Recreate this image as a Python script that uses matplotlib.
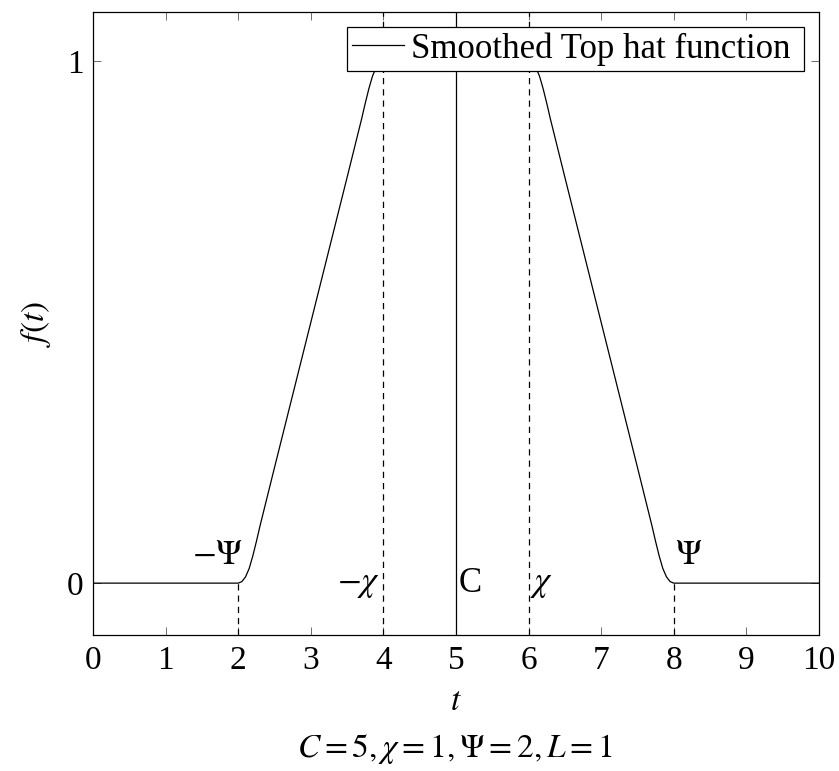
import matplotlib
matplotlib.use("Agg")
import matplotlib.pyplot as plt

# smoothed top hat, C = 5, chi = 1, Psi = 2, L = 1
t_vals = [0.0, 2.00, 2.05, 2.10, 2.15, 2.20, 2.25, 2.30, 2.50, 3.00, 3.50, 3.70, 3.75,
          3.80, 3.85, 3.90, 3.95, 4.00, 6.00, 6.05, 6.10, 6.15, 6.20, 6.25, 6.30, 6.50,
          7.00, 7.50, 7.70, 7.75, 7.80, 7.85, 7.90, 7.95, 8.00, 10.0]
f_vals = [0.0, 0.000, 0.003, 0.012, 0.028, 0.052, 0.080, 0.110, 0.222, 0.500, 0.778, 0.890, 0.920,
          0.948, 0.972, 0.988, 0.997, 1.000, 1.000, 0.997, 0.988, 0.972, 0.948, 0.920, 0.890, 0.778,
          0.500, 0.222, 0.110, 0.080, 0.052, 0.028, 0.012, 0.003, 0.000, 0.0]

x_ticks = list(range(0, 11))
y_ticks = [0, 1]

# marker lines: dashed stubs below zero, dashed full height, solid centre
short_dashed = [2, 8]
full_dashed = [4, 6]
centre = 5

# annotations: text, x, y
labels = [(r"$-\Psi$", 1.72, 0.052),
          (r"$-\chi$", 3.66, 0.0),
          ("C", 5.2, 0.0),
          (r"$\chi$", 6.18, 0.0),
          (r"$\Psi$", 8.2, 0.052)]

plt.rcParams["font.family"] = "serif"
plt.rcParams["font.serif"] = ["Liberation Serif", "DejaVu Serif"]
plt.rcParams["mathtext.fontset"] = "stix"
plt.rcParams["font.size"] = 24

fig = plt.figure(figsize=(8.39, 7.71), dpi=100)
ax = fig.add_axes([0.111, 0.176, 0.865, 0.808])

ax.plot(t_vals, f_vals, color="black", lw=0.9, label="Smoothed Top hat function ")

ymin, ymax = -0.1, 1.094
for x in short_dashed:
    ax.plot([x, x], [ymin, 0], color="black", lw=0.9, ls=(0, (5, 4)))
for x in full_dashed:
    ax.plot([x, x], [ymin, ymax], color="black", lw=0.9, ls=(0, (5, 4)))
ax.plot([centre, centre], [ymin, ymax], color="black", lw=0.9)

for txt, x, y in labels:
    ax.text(x, y, txt, ha="center", va="center", fontsize=25)

ax.set_xlim(0, 10)
ax.set_ylim(ymin, ymax)
ax.set_xticks(x_ticks)
ax.set_yticks(y_ticks)
ax.tick_params(direction="in", top=True, right=True, length=6, width=0.6,
               color="#555555", labelsize=24, pad=7)
for sp in ax.spines.values():
    sp.set_linewidth(0.9)

ax.set_xlabel(r"$t$", fontsize=24, labelpad=8)
ax.set_ylabel(r"$f(t)$", fontsize=24, labelpad=10)

leg = ax.legend(loc="upper right", frameon=True, fancybox=False, fontsize=25,
                handlelength=1.5, handletextpad=0.2, borderpad=0.15,
                borderaxespad=0.42, framealpha=1)
leg.get_frame().set_edgecolor("black")
leg.get_frame().set_linewidth(0.9)

fig.text(0.542, 0.018, r"$C=5,\chi=1,\Psi=2,L=1$", ha="center", fontsize=24)

fig.savefig("out.png", dpi=100)
